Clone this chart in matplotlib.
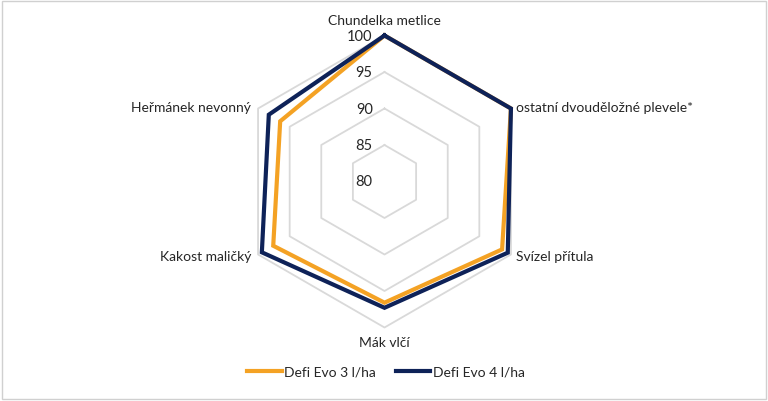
import numpy as np
import matplotlib.pyplot as plt
from matplotlib.patches import Rectangle

plt.rcParams['font.family'] = ['Lato', 'DejaVu Sans']

# Data
categories = ['Chundelka metlice', 'ostatní dvouděložné plevele*', 'Svízel přítula',
              'Mák vlčí', 'Kakost maličký', 'Heřmánek nevonný']
defi_3 = [100, 100, 98.6, 96.6, 97.6, 96.5]
defi_4 = [100, 100, 99.5, 97.3, 99.4, 98.3]
series_names = ['Defi Evo 3 l/ha', 'Defi Evo 4 l/ha']
rings = [80, 85, 90, 95, 100]

orange = '#F4A224'
navy = '#0E2258'
grid_col = '#D9D9D9'

W, H = 768, 402
fig = plt.figure(figsize=(W / 100, H / 100), dpi=100)

# polar axes placed so the centre and radius match the reference
cx, cy, rad = 384.5, 402 - 182.5, 146
ax = fig.add_axes([(cx - rad) / W, (cy - rad) / H, 2 * rad / W, 2 * rad / H],
                  projection='polar')
ax.set_theta_offset(np.pi / 2)
ax.set_theta_direction(-1)
ax.set_ylim(80, 100)
ax.grid(False)
ax.spines['polar'].set_visible(False)
ax.set_xticks([])
ax.set_yticks([])
ax.patch.set_alpha(0)

n = len(categories)
theta = np.linspace(0, 2 * np.pi, n, endpoint=False)
closed = np.append(theta, theta[0])

# hexagonal grid rings
for r in rings:
    ax.plot(closed, [r] * (n + 1), color=grid_col, lw=1.3, zorder=1, clip_on=False)
    ax.annotate(str(r), xy=(0, r), xytext=(-8.5, 0), textcoords='offset points',
                ha='right', va='center', fontsize=10.5, color='#262626',
                annotation_clip=False)

ax.plot(closed, defi_3 + defi_3[:1], color=orange, lw=3, zorder=3,
        clip_on=False, label=series_names[0], solid_joinstyle='miter')
ax.plot(closed, defi_4 + defi_4[:1], color=navy, lw=3, zorder=4,
        clip_on=False, label=series_names[1], solid_joinstyle='miter')

# category labels
label_pos = [
    (101.3, 'center', 'bottom', (0, 0)),
    (100, 'left', 'center', (4, 1)),
    (100, 'left', 'center', (4, -1)),
    (100, 'center', 'top', (0, -6)),
    (100, 'right', 'center', (-5, -1)),
    (100, 'right', 'center', (-5, 1)),
]
for t, name, (r, ha, va, off) in zip(theta, categories, label_pos):
    ax.annotate(name, xy=(t, r), xytext=off, textcoords='offset points',
                ha=ha, va=va, fontsize=10, color='#262626', annotation_clip=False)

leg = fig.legend(loc='center', bbox_to_anchor=(386 / W, 1 - 373 / H), ncol=2,
                 frameon=False, fontsize=10, handlelength=2.5, handletextpad=0.2,
                 columnspacing=1.4)
for txt in leg.get_texts():
    txt.set_color('#262626')

fig.patches.append(Rectangle((2 / W, 2 / H), 1 - 4 / W, 1 - 4 / H, transform=fig.transFigure,
                             fill=False, edgecolor='#D0D0D0', lw=1))

fig.savefig('out.png', dpi=100)
